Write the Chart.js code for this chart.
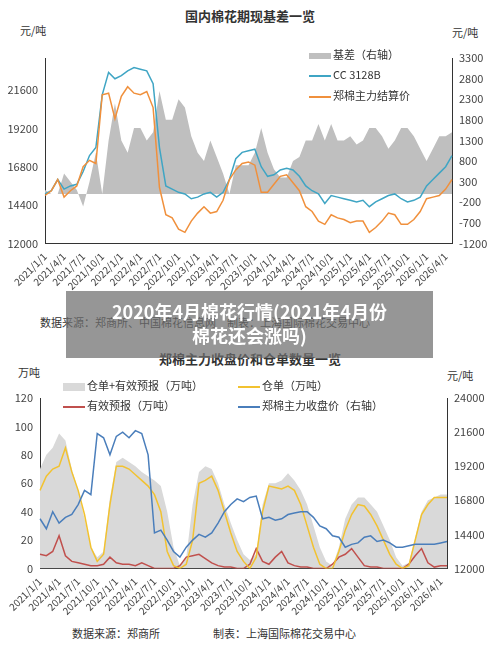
<!DOCTYPE html>
<html><head><meta charset="utf-8">
<script src="https://cdn.jsdelivr.net/npm/chart.js@4"></script>
<style>
body{margin:0;width:500px;height:649px;position:relative;background:#fff;font-family:"Noto Sans CJK SC",sans-serif;color:#333;overflow:hidden}
.t{position:absolute;white-space:nowrap}
.c{position:absolute;left:0}
.lg{position:absolute;font-size:11px;white-space:nowrap}
.sw{display:inline-block;width:22px;vertical-align:middle;margin-right:2px}
</style></head><body>
<div class="t" style="left:0;width:500px;top:6px;text-align:center;font-size:13px;font-weight:bold">国内棉花期现基差一览</div>
<div class="t" style="left:20px;top:22px;font-size:11px">元/吨</div>
<div class="t" style="left:452px;top:24px;font-size:11px">元/吨</div>
<div class="c" style="top:40px;width:500px;height:255px"><canvas id="c1"></canvas></div>
<div class="lg" style="left:309px;top:46px"><span class="sw" style="height:6px;background:#bfbfbf"></span>基差（右轴）</div>
<div class="lg" style="left:309px;top:66px"><span class="sw" style="height:2px;background:#3fa5c4"></span>CC 3128B</div>
<div class="lg" style="left:309px;top:87px"><span class="sw" style="height:2px;background:#f0903c"></span>郑棉主力结算价</div>
<div class="t" style="left:40px;top:314px;font-size:11px">数据来源：郑商所、中国棉花信息网　制表：上海国际棉花交易中心</div>
<div class="t" style="left:0;width:500px;top:349px;text-align:center;font-size:13px;font-weight:bold">郑棉主力收盘价和仓单数量一览</div>
<div class="t" style="left:18px;top:364px;font-size:11px">万吨</div>
<div class="t" style="left:447px;top:367px;font-size:11px">元/吨</div>
<div class="c" style="top:386px;width:500px;height:234px"><canvas id="c2"></canvas></div>
<div class="lg" style="left:63px;top:377px"><span class="sw" style="height:8px;background:#d9d9d9"></span>仓单+有效预报（万吨）</div>
<div class="lg" style="left:238px;top:377px"><span class="sw" style="height:2px;background:#f2c230"></span>仓单（万吨）</div>
<div class="lg" style="left:63px;top:397px"><span class="sw" style="height:2px;background:#c0504d"></span>有效预报（万吨）</div>
<div class="lg" style="left:238px;top:397px"><span class="sw" style="height:2px;background:#4a7ebb"></span>郑棉主力收盘价（右轴）</div>
<div class="t" style="left:72px;top:625px;font-size:11px">数据来源：郑商所</div>
<div class="t" style="left:213px;top:625px;font-size:11px">制表：上海国际棉花交易中心</div>
<div class="t" style="left:66px;top:291px;width:367px;height:67px;background:rgba(110,110,110,0.72);color:#fff;font-weight:bold;font-size:18px;text-align:center;line-height:24px;padding-top:8px;box-sizing:border-box">2020年4月棉花行情(2021年4月份<br>棉花还会涨吗)</div>
<script>
const months = [];
for (let y = 2021; y <= 2026; y++) for (let m = 1; m <= 12; m++) if (y < 2026 || m <= 5) months.push(y + '/' + m + '/1');

const cc3128b = [15100,15300,16000,15400,15600,15700,16500,17500,18000,21300,22700,22300,
 22500,22800,23000,22900,22800,22000,18000,15600,15400,15200,15100,14800,
 14900,15100,15200,14900,15200,16000,17300,17700,17800,17900,16800,16200,
 16300,16600,16700,16600,16200,15600,15300,15100,14500,15000,14900,14800,
 14700,14600,14700,14300,14600,14800,15000,15100,14800,14600,14700,14900,
 15600,16000,16400,16800,17500];
const zceSettle = [15000,15300,16000,14900,15300,15600,16800,17200,17000,21300,21400,19800,
 21200,21800,21400,21300,21500,20500,15500,13800,13600,12900,12700,13400,
 13900,14300,13900,14000,14700,16000,16600,17000,17100,16900,15200,15200,
 15700,16200,16300,15800,15300,14300,14000,13400,13200,13800,13600,13500,
 13300,13400,13400,12700,13000,13400,13900,13800,13200,13200,13500,14000,
 14800,14900,15000,15400,16000];
const basis = [100,0,0,500,300,100,-300,300,1000,0,1300,2200,
 1300,1000,1600,1600,1300,1500,2500,1800,1800,2300,2100,1400,
 1000,800,1300,900,500,0,700,700,700,1000,1600,1000,
 600,400,400,800,900,1300,1300,1700,1300,1700,1300,1300,
 1400,1200,1300,1600,1600,1400,1100,1300,1600,1600,1400,1100,
 800,1100,1400,1400,1500];
const leftTicks1 = [12000,14400,16800,19200,21600];

const receiptsPlus = [70,80,85,95,90,70,55,35,15,8,12,50,
 75,78,75,72,68,65,62,58,40,15,2,8,
 45,68,72,70,60,45,32,20,10,6,10,45,
 60,60,62,67,62,55,45,30,15,5,2,15,
 35,45,50,50,45,40,30,20,8,2,4,22,
 40,48,50,52,52];
const receipts = [55,65,70,72,85,68,55,38,15,5,10,45,
 72,72,70,66,62,58,52,40,12,2,0,3,
 20,60,62,65,55,40,25,12,5,0,8,40,
 58,57,56,58,55,45,30,15,3,0,0,12,
 27,38,45,44,38,30,20,10,3,0,2,20,
 38,45,50,50,50];
const forecasts = [10,9,12,23,9,5,4,3,2,2,3,8,
 4,3,3,2,4,2,0,0,0,0,2,8,
 9,10,7,4,2,1,1,0,0,3,14,5,
 3,8,12,4,2,1,1,0,0,0,3,8,
 10,14,8,2,1,1,0,0,0,0,3,9,
 14,4,1,2,2];
const zceClose = [15500,14800,16000,15200,15600,15800,16500,17500,17200,21500,21200,20000,
 21300,21600,21200,21700,21500,20000,14500,14700,14000,13200,12800,13500,
 14000,14400,14200,14500,15200,16000,16500,16900,16700,17000,17100,15500,
 15600,15400,15500,15800,15900,16000,16000,15600,15000,14800,14300,14200,
 13500,13700,13800,14200,14300,13900,14000,13800,13500,13500,13600,13700,
 13700,13700,13700,13800,13900];

const tickFont = {family: 'Noto Sans CJK SC', size: 11};
function xAxis() {
  return {offset: false, grid: {display: false, drawTicks: true, tickLength: 4, color: '#333'},
    border: {color: '#333'},
    ticks: {autoSkip: false, maxRotation: 45, minRotation: 45, color: '#444', font: {family: 'Noto Sans CJK SC', size: 10},
      callback: (v, i) => i % 3 === 0 ? months[i] : ''}};
}
function yAxis(pos, min, max, step, w, fixed) {
  const a = {position: pos, min: min, max: max, grid: {display: false, tickLength: 4, color: '#333'},
    border: {color: '#333'},
    ticks: {stepSize: step, color: '#444', font: tickFont, callback: v => String(v)},
    afterFit: s => { s.width = w; }};
  if (fixed) a.afterBuildTicks = s => { s.ticks = fixed.map(v => ({value: v})); };
  return a;
}
const common = {responsive: true, maintainAspectRatio: false, animation: false,
  plugins: {legend: {display: false}, tooltip: {enabled: false}},
  elements: {point: {radius: 0}, line: {borderWidth: 1.5, tension: 0}}};

new Chart(document.getElementById('c1'), {
  type: 'line',
  data: {labels: months, datasets: [
    {label: 'CC 3128B', data: cc3128b, borderColor: '#3fa5c4', yAxisID: 'y', order: 1},
    {label: '郑棉主力结算价', data: zceSettle, borderColor: '#f0903c', yAxisID: 'y', order: 0},
    {label: '基差（右轴）', data: basis, borderColor: '#bfbfbf', borderWidth: 0, backgroundColor: '#bfbfbf', fill: {value: 0}, yAxisID: 'y1', order: 2}
  ]},
  options: Object.assign({}, common, {
    layout: {padding: {top: 18, right: 0, left: 0}},
    scales: {x: xAxis(), y: yAxis('left', 12000, 23600, 2400, 45, leftTicks1), y1: yAxis('right', -1200, 3300, 500, 48)}
  })
});

new Chart(document.getElementById('c2'), {
  type: 'line',
  data: {labels: months, datasets: [
    {label: '郑棉主力收盘价（右轴）', data: zceClose, borderColor: '#4a7ebb', yAxisID: 'y1', order: 0},
    {label: '仓单（万吨）', data: receipts, borderColor: '#f2c230', yAxisID: 'y', order: 1},
    {label: '有效预报（万吨）', data: forecasts, borderColor: '#c0504d', yAxisID: 'y', order: 2},
    {label: '仓单+有效预报（万吨）', data: receiptsPlus, borderColor: '#d9d9d9', backgroundColor: '#d9d9d9', fill: 'origin', borderWidth: 0, yAxisID: 'y', order: 3}
  ]},
  options: Object.assign({}, common, {
    layout: {padding: {top: 12, right: 0, left: 0}},
    scales: {x: xAxis(), y: yAxis('left', 0, 120, 20, 40), y1: yAxis('right', 12000, 24000, 2400, 53)}
  })
});
</script>
</body></html>
